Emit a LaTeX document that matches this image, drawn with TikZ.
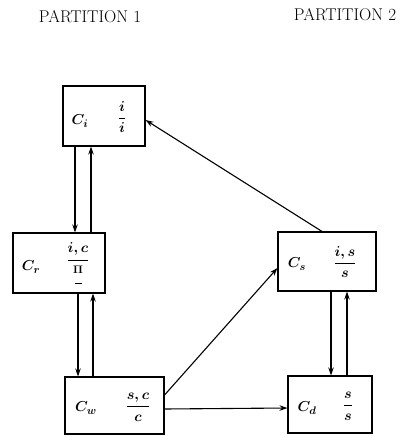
\documentclass[tikz,border=0pt]{standalone}
\usepackage{amsmath}
\usetikzlibrary{arrows.meta}
\begin{document}
\begin{tikzpicture}[x=1pt,y=-1pt,
  box/.style={draw,line width=1.1pt,inner sep=0pt},
  lbl/.style={font=\fontsize{15}{17}\selectfont\boldmath},
  title/.style={font=\fontsize{17}{19}\selectfont},
  arr/.style={line width=1.1pt,-{Stealth[length=8pt,width=5.5pt]}}]
\useasboundingbox (0,0) rectangle (410,436);
\node[title] (p1) at (90,17) {PARTITION 1};
\node[title] (p2) at (345,15) {PARTITION 2};
% boxes
\node[box,minimum width=82pt,minimum height=60pt] (Ci) at (104,116) {};
\node[box,minimum width=92pt,minimum height=60pt] (Cr) at (59,263) {};
\node[box,minimum width=98pt,minimum height=59pt] (Cs) at (327,261.5) {};
\node[box,minimum width=99pt,minimum height=57pt] (Cw) at (114.5,405.5) {};
\node[box,minimum width=84pt,minimum height=57pt] (Cd) at (330,404.5) {};
% labels
\node[lbl] (ci1) at (80,121) {$C_i$};
\node[lbl] (ci2) at (122,117) {$\dfrac{i}{i}$};
\node[lbl] (cr1) at (31,267) {$C_r$};
\node[lbl] (cr2) at (78,266) {$\dfrac{i,c}{\begin{array}{@{}c@{}}\scriptstyle\Pi\\[-7pt]\rule{7pt}{1.3pt}\end{array}}$};
\node[lbl] (cs1) at (297,264) {$C_s$};
\node[lbl] (cs2) at (345,262) {$\dfrac{i,s}{s}$};
\node[lbl] (cw1) at (86,408) {$C_w$};
\node[lbl] (cw2) at (138,407) {$\dfrac{s,c}{c}$};
\node[lbl] (cd1) at (307,408) {$C_d$};
\node[lbl] (cd2) at (348,406) {$\dfrac{s}{s}$};
% x positions of vertical connectors
\coordinate (xa) at (75,0);
\coordinate (xb) at (91,0);
\coordinate (xc) at (78,0);
\coordinate (xd) at (93,0);
\coordinate (xe) at (331,0);
\coordinate (xf) at (347,0);
% connectors
\draw[arr] (Ci.south -| xa) -- (Cr.north -| xa);
\draw[arr] (Cr.north -| xb) -- (Ci.south -| xb);
\draw[arr] (Cr.south -| xc) -- (Cw.north -| xc);
\draw[arr] (Cw.north -| xd) -- (Cr.south -| xd);
\draw[arr] (Cs.south -| xe) -- (Cd.north -| xe);
\draw[arr] (Cd.north -| xf) -- (Cs.south -| xf);
\draw[arr] ([yshift=-3.5pt]Cw.east) -- ([yshift=-3.5pt]Cd.west);
\draw[arr] ([yshift=10.5pt]Cw.east) -- ([yshift=-6.5pt]Cs.west);
\draw[arr] ([xshift=-5pt]Cs.north) -- ([yshift=-4pt]Ci.east);
\end{tikzpicture}
\end{document}
